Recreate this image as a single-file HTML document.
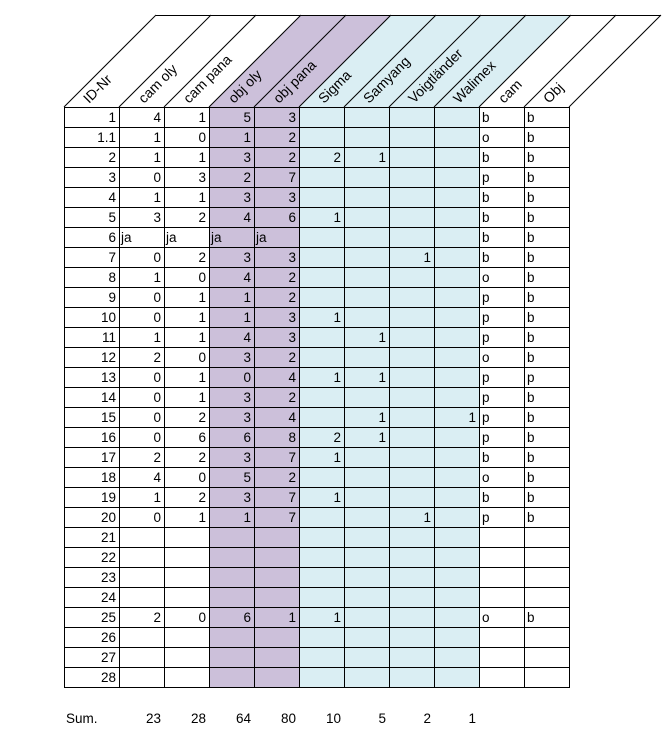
<!DOCTYPE html>
<html><head><meta charset="utf-8"><style>
html,body{margin:0;padding:0;background:#fff;width:667px;height:750px;overflow:hidden}
svg{display:block}
text{font-family:"Liberation Sans",sans-serif;font-size:13.5px;fill:#000}
.h text{font-size:14px}
.r{text-anchor:end}
</style></head><body>
<svg width="667" height="750" viewBox="0 0 667 750" xmlns="http://www.w3.org/2000/svg">
<rect x="209" y="107" width="90" height="580" fill="#ccc0da"/>
<rect x="299" y="107" width="180" height="580" fill="#daeef3"/>
<polygon points="209,107 301,15 391,15 299,107" fill="#ccc0da"/>
<polygon points="299,107 391,15 571,15 479,107" fill="#daeef3"/>
<g stroke="#000" stroke-width="1" fill="none">
<line x1="156" y1="15.5" x2="661" y2="15.5"/>
<line x1="64" y1="107" x2="156" y2="15"/>
<line x1="119" y1="107" x2="211" y2="15"/>
<line x1="164" y1="107" x2="256" y2="15"/>
<line x1="209" y1="107" x2="301" y2="15"/>
<line x1="254" y1="107" x2="346" y2="15"/>
<line x1="299" y1="107" x2="391" y2="15"/>
<line x1="344" y1="107" x2="436" y2="15"/>
<line x1="389" y1="107" x2="481" y2="15"/>
<line x1="434" y1="107" x2="526" y2="15"/>
<line x1="479" y1="107" x2="571" y2="15"/>
<line x1="524" y1="107" x2="616" y2="15"/>
<line x1="569" y1="107" x2="661" y2="15"/>
</g>
<g class="h">
<text transform="translate(89,104) rotate(-45)">ID-Nr</text>
<text transform="translate(144,104) rotate(-45)">cam oly</text>
<text transform="translate(189,104) rotate(-45)">cam pana</text>
<text transform="translate(234,104) rotate(-45)">obj oly</text>
<text transform="translate(279,104) rotate(-45)">obj pana</text>
<text transform="translate(324,104) rotate(-45)">Sigma</text>
<text transform="translate(369,104) rotate(-45)">Samyang</text>
<text transform="translate(414,104) rotate(-45)">Voigtländer</text>
<text transform="translate(459,104) rotate(-45)">Walimex</text>
<text transform="translate(504,104) rotate(-45)">cam</text>
<text transform="translate(549,104) rotate(-45)">Obj</text>
</g>
<g stroke="#000" stroke-width="1">
<line x1="64.5" y1="107" x2="64.5" y2="687"/>
<line x1="119.5" y1="107" x2="119.5" y2="687"/>
<line x1="164.5" y1="107" x2="164.5" y2="687"/>
<line x1="209.5" y1="107" x2="209.5" y2="687"/>
<line x1="254.5" y1="107" x2="254.5" y2="687"/>
<line x1="299.5" y1="107" x2="299.5" y2="687"/>
<line x1="344.5" y1="107" x2="344.5" y2="687"/>
<line x1="389.5" y1="107" x2="389.5" y2="687"/>
<line x1="434.5" y1="107" x2="434.5" y2="687"/>
<line x1="479.5" y1="107" x2="479.5" y2="687"/>
<line x1="524.5" y1="107" x2="524.5" y2="687"/>
<line x1="569.5" y1="107" x2="569.5" y2="687"/>
<line x1="64" y1="107.5" x2="570" y2="107.5"/>
<line x1="64" y1="127.5" x2="570" y2="127.5"/>
<line x1="64" y1="147.5" x2="570" y2="147.5"/>
<line x1="64" y1="167.5" x2="570" y2="167.5"/>
<line x1="64" y1="187.5" x2="570" y2="187.5"/>
<line x1="64" y1="207.5" x2="570" y2="207.5"/>
<line x1="64" y1="227.5" x2="570" y2="227.5"/>
<line x1="64" y1="247.5" x2="570" y2="247.5"/>
<line x1="64" y1="267.5" x2="570" y2="267.5"/>
<line x1="64" y1="287.5" x2="570" y2="287.5"/>
<line x1="64" y1="307.5" x2="570" y2="307.5"/>
<line x1="64" y1="327.5" x2="570" y2="327.5"/>
<line x1="64" y1="347.5" x2="570" y2="347.5"/>
<line x1="64" y1="367.5" x2="570" y2="367.5"/>
<line x1="64" y1="387.5" x2="570" y2="387.5"/>
<line x1="64" y1="407.5" x2="570" y2="407.5"/>
<line x1="64" y1="427.5" x2="570" y2="427.5"/>
<line x1="64" y1="447.5" x2="570" y2="447.5"/>
<line x1="64" y1="467.5" x2="570" y2="467.5"/>
<line x1="64" y1="487.5" x2="570" y2="487.5"/>
<line x1="64" y1="507.5" x2="570" y2="507.5"/>
<line x1="64" y1="527.5" x2="570" y2="527.5"/>
<line x1="64" y1="547.5" x2="570" y2="547.5"/>
<line x1="64" y1="567.5" x2="570" y2="567.5"/>
<line x1="64" y1="587.5" x2="570" y2="587.5"/>
<line x1="64" y1="607.5" x2="570" y2="607.5"/>
<line x1="64" y1="627.5" x2="570" y2="627.5"/>
<line x1="64" y1="647.5" x2="570" y2="647.5"/>
<line x1="64" y1="667.5" x2="570" y2="667.5"/>
<line x1="64" y1="687.5" x2="570" y2="687.5"/>
</g>
<g class="r">
<text x="116" y="122">1</text><text x="116" y="142">1.1</text><text x="116" y="162">2</text>
<text x="116" y="182">3</text><text x="116" y="202">4</text><text x="116" y="222">5</text>
<text x="116" y="242">6</text><text x="116" y="262">7</text><text x="116" y="282">8</text>
<text x="116" y="302">9</text><text x="116" y="322">10</text><text x="116" y="342">11</text>
<text x="116" y="362">12</text><text x="116" y="382">13</text><text x="116" y="402">14</text>
<text x="116" y="422">15</text><text x="116" y="442">16</text><text x="116" y="462">17</text>
<text x="116" y="482">18</text><text x="116" y="502">19</text><text x="116" y="522">20</text>
<text x="116" y="542">21</text><text x="116" y="562">22</text><text x="116" y="582">23</text>
<text x="116" y="602">24</text><text x="116" y="622">25</text><text x="116" y="642">26</text>
<text x="116" y="662">27</text><text x="116" y="682">28</text>
</g>
<g class="r">
<text x="161" y="122">4</text><text x="206" y="122">1</text><text x="251" y="122">5</text><text x="296" y="122">3</text>
<text x="161" y="142">1</text><text x="206" y="142">0</text><text x="251" y="142">1</text><text x="296" y="142">2</text>
<text x="161" y="162">1</text><text x="206" y="162">1</text><text x="251" y="162">3</text><text x="296" y="162">2</text><text x="341" y="162">2</text><text x="386" y="162">1</text>
<text x="161" y="182">0</text><text x="206" y="182">3</text><text x="251" y="182">2</text><text x="296" y="182">7</text>
<text x="161" y="202">1</text><text x="206" y="202">1</text><text x="251" y="202">3</text><text x="296" y="202">3</text>
<text x="161" y="222">3</text><text x="206" y="222">2</text><text x="251" y="222">4</text><text x="296" y="222">6</text><text x="341" y="222">1</text>
<text x="161" y="262">0</text><text x="206" y="262">2</text><text x="251" y="262">3</text><text x="296" y="262">3</text><text x="431" y="262">1</text>
<text x="161" y="282">1</text><text x="206" y="282">0</text><text x="251" y="282">4</text><text x="296" y="282">2</text>
<text x="161" y="302">0</text><text x="206" y="302">1</text><text x="251" y="302">1</text><text x="296" y="302">2</text>
<text x="161" y="322">0</text><text x="206" y="322">1</text><text x="251" y="322">1</text><text x="296" y="322">3</text><text x="341" y="322">1</text>
<text x="161" y="342">1</text><text x="206" y="342">1</text><text x="251" y="342">4</text><text x="296" y="342">3</text><text x="386" y="342">1</text>
<text x="161" y="362">2</text><text x="206" y="362">0</text><text x="251" y="362">3</text><text x="296" y="362">2</text>
<text x="161" y="382">0</text><text x="206" y="382">1</text><text x="251" y="382">0</text><text x="296" y="382">4</text><text x="341" y="382">1</text><text x="386" y="382">1</text>
<text x="161" y="402">0</text><text x="206" y="402">1</text><text x="251" y="402">3</text><text x="296" y="402">2</text>
<text x="161" y="422">0</text><text x="206" y="422">2</text><text x="251" y="422">3</text><text x="296" y="422">4</text><text x="386" y="422">1</text><text x="476" y="422">1</text>
<text x="161" y="442">0</text><text x="206" y="442">6</text><text x="251" y="442">6</text><text x="296" y="442">8</text><text x="341" y="442">2</text><text x="386" y="442">1</text>
<text x="161" y="462">2</text><text x="206" y="462">2</text><text x="251" y="462">3</text><text x="296" y="462">7</text><text x="341" y="462">1</text>
<text x="161" y="482">4</text><text x="206" y="482">0</text><text x="251" y="482">5</text><text x="296" y="482">2</text>
<text x="161" y="502">1</text><text x="206" y="502">2</text><text x="251" y="502">3</text><text x="296" y="502">7</text><text x="341" y="502">1</text>
<text x="161" y="522">0</text><text x="206" y="522">1</text><text x="251" y="522">1</text><text x="296" y="522">7</text><text x="431" y="522">1</text>
<text x="161" y="622">2</text><text x="206" y="622">0</text><text x="251" y="622">6</text><text x="296" y="622">1</text><text x="341" y="622">1</text>
<text x="161" y="723">23</text><text x="206" y="723">28</text><text x="251" y="723">64</text><text x="296" y="723">80</text>
<text x="341" y="723">10</text><text x="386" y="723">5</text><text x="431" y="723">2</text><text x="476" y="723">1</text>
</g>
<text x="66" y="723">Sum.</text>
<text x="121" y="242">ja</text><text x="166" y="242">ja</text><text x="211" y="242">ja</text><text x="256" y="242">ja</text>
<g>
<text x="482" y="122">b</text><text x="527" y="122">b</text>
<text x="482" y="142">o</text><text x="527" y="142">b</text>
<text x="482" y="162">b</text><text x="527" y="162">b</text>
<text x="482" y="182">p</text><text x="527" y="182">b</text>
<text x="482" y="202">b</text><text x="527" y="202">b</text>
<text x="482" y="222">b</text><text x="527" y="222">b</text>
<text x="482" y="242">b</text><text x="527" y="242">b</text>
<text x="482" y="262">b</text><text x="527" y="262">b</text>
<text x="482" y="282">o</text><text x="527" y="282">b</text>
<text x="482" y="302">p</text><text x="527" y="302">b</text>
<text x="482" y="322">p</text><text x="527" y="322">b</text>
<text x="482" y="342">p</text><text x="527" y="342">b</text>
<text x="482" y="362">o</text><text x="527" y="362">b</text>
<text x="482" y="382">p</text><text x="527" y="382">p</text>
<text x="482" y="402">p</text><text x="527" y="402">b</text>
<text x="482" y="422">p</text><text x="527" y="422">b</text>
<text x="482" y="442">p</text><text x="527" y="442">b</text>
<text x="482" y="462">b</text><text x="527" y="462">b</text>
<text x="482" y="482">o</text><text x="527" y="482">b</text>
<text x="482" y="502">b</text><text x="527" y="502">b</text>
<text x="482" y="522">p</text><text x="527" y="522">b</text>
<text x="482" y="622">o</text><text x="527" y="622">b</text>
</g>
</svg>
</body></html>
